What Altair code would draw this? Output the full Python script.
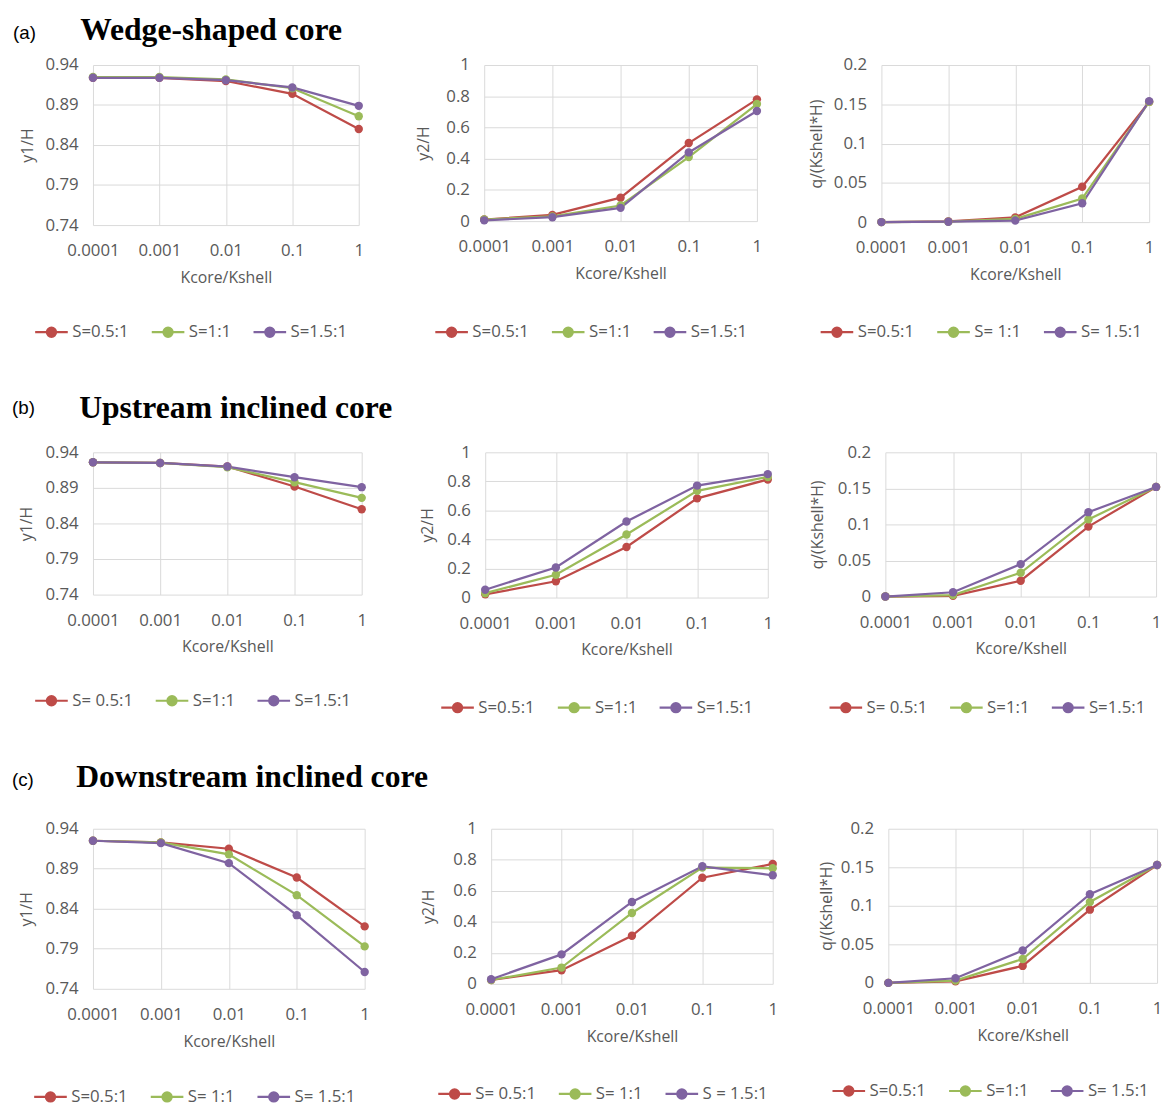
import altair as alt
import pandas as pd

# ---------------- data ----------------
X_LABELS = ["0.0001", "0.001", "0.01", "0.1", "1"]
SERIES_COLORS = ["#BE4B48", "#9BBB59", "#7F63A1"]

Y1_TICKS = [0.74, 0.79, 0.84, 0.89, 0.94]
Y2_TICKS = [0, 0.2, 0.4, 0.6, 0.8, 1]
Q_TICKS = [0, 0.05, 0.1, 0.15, 0.2]

ROW_LETTERS = ["(a)", "(b)", "(c)"]
ROW_TITLES = ["Wedge-shaped core", "Upstream inclined core", "Downstream inclined core"]
Y_TITLES = ["y1/H", "y2/H", "q/(Kshell*H)"]
X_TITLE = "Kcore/Kshell"

# (a) Wedge-shaped core
A_Y1_S05 = [0.924, 0.924, 0.920, 0.904, 0.860]
A_Y1_S10 = [0.925, 0.925, 0.922, 0.911, 0.876]
A_Y1_S15 = [0.924, 0.924, 0.921, 0.912, 0.889]
A_Y2_S05 = [0.010, 0.040, 0.150, 0.500, 0.780]
A_Y2_S10 = [0.010, 0.030, 0.100, 0.410, 0.750]
A_Y2_S15 = [0.005, 0.025, 0.085, 0.440, 0.705]
A_Q_S05 = [0.0, 0.001, 0.006, 0.045, 0.153]
A_Q_S10 = [0.0, 0.0005, 0.004, 0.030, 0.153]
A_Q_S15 = [0.0, 0.0005, 0.002, 0.024, 0.154]
A_LEG_Y1 = ["S=0.5:1", "S=1:1", "S=1.5:1"]
A_LEG_Y2 = ["S=0.5:1", "S=1:1", "S=1.5:1"]
A_LEG_Q = ["S=0.5:1", "S= 1:1", "S= 1.5:1"]

# (b) Upstream inclined core
B_Y1_S05 = [0.926, 0.925, 0.920, 0.892, 0.860]
B_Y1_S10 = [0.926, 0.925, 0.919, 0.898, 0.876]
B_Y1_S15 = [0.926, 0.925, 0.920, 0.905, 0.891]
B_Y2_S05 = [0.022, 0.112, 0.348, 0.683, 0.813]
B_Y2_S10 = [0.030, 0.157, 0.434, 0.735, 0.830]
B_Y2_S15 = [0.054, 0.207, 0.524, 0.771, 0.850]
B_Q_S05 = [0.0, 0.001, 0.022, 0.097, 0.152]
B_Q_S10 = [0.0, 0.002, 0.033, 0.107, 0.152]
B_Q_S15 = [0.0, 0.006, 0.045, 0.117, 0.152]
B_LEG_Y1 = ["S= 0.5:1", "S=1:1", "S=1.5:1"]
B_LEG_Y2 = ["S=0.5:1", "S=1:1", "S=1.5:1"]
B_LEG_Q = ["S= 0.5:1", "S=1:1", "S=1.5:1"]

# (c) Downstream inclined core
C_Y1_S05 = [0.925, 0.923, 0.915, 0.879, 0.818]
C_Y1_S10 = [0.925, 0.923, 0.908, 0.857, 0.793]
C_Y1_S15 = [0.925, 0.922, 0.897, 0.832, 0.761]
C_Y2_S05 = [0.025, 0.088, 0.310, 0.684, 0.773]
C_Y2_S10 = [0.025, 0.105, 0.457, 0.750, 0.745]
C_Y2_S15 = [0.030, 0.190, 0.528, 0.758, 0.700]
C_Q_S05 = [0.0, 0.002, 0.022, 0.095, 0.153]
C_Q_S10 = [0.0, 0.003, 0.031, 0.105, 0.153]
C_Q_S15 = [0.0, 0.006, 0.042, 0.115, 0.153]
C_LEG_Y1 = ["S=0.5:1", "S= 1:1", "S= 1.5:1"]
C_LEG_Y2 = ["S= 0.5:1", "S= 1:1", "S = 1.5:1"]
C_LEG_Q = ["S=0.5:1", "S=1:1", "S= 1.5:1"]

# ---------------- styling ----------------
FONT = "Open Sans"
GREY = "#595959"
LEGEND_SYMBOL = ("M-1,0L1,0M0.28,0A0.28,0.28,0,1,1,-0.28,0"
                 "A0.28,0.28,0,1,1,0.28,0Z")

# per panel: width, height, legendX, legendY, y-title x offset
STYLE = {
    "a1": dict(w=269, h=162, lx=-60, ly=252, tx=-66),
    "a2": dict(w=276, h=158, lx=-51, ly=252, tx=-61),
    "a3": dict(w=271, h=159, lx=-63, ly=252, tx=-66),
    "b1": dict(w=272, h=144, lx=-60, ly=233, tx=-67),
    "b2": dict(w=286, h=147, lx=-46, ly=240, tx=-58),
    "b3": dict(w=274, h=146, lx=-58, ly=240, tx=-69),
    "c1": dict(w=275, h=162, lx=-61, ly=253, tx=-67),
    "c2": dict(w=285, h=157, lx=-55, ly=250, tx=-63),
    "c3": dict(w=272, h=156, lx=-58, ly=247, tx=-63),
}

# per row: spacing col1-col2, spacing col2-col3, title offset, title dx, letter offset
ROW_STYLE = [
    dict(s12=53, s23=47, off=9, dx=61, loff=-29),
    dict(s12=54, s23=37, off=19, dx=61, loff=-26),
    dict(s12=52, s23=41, off=26, dx=58, loff=-29),
]


def panel(series, labels, kind, key):
    st = STYLE[key]
    rows = []
    for lab, vals in zip(labels, series):
        for i, (x, v) in enumerate(zip(X_LABELS, vals)):
            rows.append({"k": x, "v": v, "s": lab, "i": i})
    df = pd.DataFrame(rows)

    if kind == "y1":
        dom, ticks, fmt, yt = [0.74, 0.94], Y1_TICKS, ".2f", Y_TITLES[0]
    elif kind == "y2":
        dom, ticks, fmt, yt = [0, 1], Y2_TICKS, ".1~f", Y_TITLES[1]
    else:
        dom, ticks, fmt, yt = [0, 0.2], Q_TICKS, ".2~f", Y_TITLES[2]

    x_enc = alt.X(
        "k:O", sort=X_LABELS,
        scale=alt.Scale(type="point", padding=0),
        axis=alt.Axis(title=X_TITLE, labelAngle=0, labelPadding=18,
                      titlePadding=11, grid=True),
    )
    y_enc = alt.Y(
        "v:Q",
        scale=alt.Scale(domain=dom, nice=False, zero=False),
        axis=alt.Axis(values=ticks, format=fmt, title=yt, labelPadding=15,
                      titleX=st["tx"], titleY=st["h"] / 2,
                      titleBaseline="middle", grid=True),
    )
    leg = dict(orient="none", legendX=st["lx"], legendY=st["ly"],
               direction="horizontal", columns=3, title=None,
               symbolType=LEGEND_SYMBOL, symbolSize=1089,
               symbolStrokeWidth=2.25, columnPadding=18, labelOffset=3,
               padding=0)
    scale = alt.Scale(domain=labels, range=SERIES_COLORS)
    base = alt.Chart(df).encode(x=x_enc, y=y_enc)
    line = base.mark_line(strokeWidth=2.25).encode(
        stroke=alt.Stroke("s:N", scale=scale, legend=alt.Legend(**leg)),
        order=alt.Order("i:Q"),
    )
    pts = base.mark_point(filled=True, size=72, opacity=1).encode(
        fill=alt.Fill("s:N", scale=scale, legend=alt.Legend(**leg)),
    )
    return alt.layer(line, pts).properties(width=st["w"], height=st["h"])


def indep(c):
    return c.resolve_scale(stroke="independent", fill="independent",
                           x="independent", y="independent").resolve_legend(
        stroke="independent", fill="independent")


def row(idx, p1, p2, p3):
    rs = ROW_STYLE[idx]
    inner = indep(alt.hconcat(p2, p3, spacing=rs["s23"]))
    name = alt.TitleParams(
        text=ROW_TITLES[idx], anchor="start", frame="bounds", dx=rs["dx"],
        offset=rs["off"], font="Liberation Serif", fontSize=32,
        fontWeight="bold", color="black",
    )
    body = indep(alt.hconcat(p1, inner, spacing=rs["s12"])).properties(title=name)
    letter = alt.TitleParams(
        text=ROW_LETTERS[idx], anchor="start", frame="bounds", dx=-7,
        offset=rs["loff"], font="Liberation Sans", fontSize=19,
        fontWeight="normal", color="black",
    )
    return indep(alt.vconcat(body)).properties(title=letter)


row_a = row(0,
            panel([A_Y1_S05, A_Y1_S10, A_Y1_S15], A_LEG_Y1, "y1", "a1"),
            panel([A_Y2_S05, A_Y2_S10, A_Y2_S15], A_LEG_Y2, "y2", "a2"),
            panel([A_Q_S05, A_Q_S10, A_Q_S15], A_LEG_Q, "q", "a3"))
row_b = row(1,
            panel([B_Y1_S05, B_Y1_S10, B_Y1_S15], B_LEG_Y1, "y1", "b1"),
            panel([B_Y2_S05, B_Y2_S10, B_Y2_S15], B_LEG_Y2, "y2", "b2"),
            panel([B_Q_S05, B_Q_S10, B_Q_S15], B_LEG_Q, "q", "b3"))
row_c = row(2,
            panel([C_Y1_S05, C_Y1_S10, C_Y1_S15], C_LEG_Y1, "y1", "c1"),
            panel([C_Y2_S05, C_Y2_S10, C_Y2_S15], C_LEG_Y2, "y2", "c2"),
            panel([C_Q_S05, C_Q_S10, C_Q_S15], C_LEG_Q, "q", "c3"))

lower = indep(alt.vconcat(row_b, row_c, spacing=45))
chart = indep(alt.vconcat(row_a, lower, spacing=51)).properties(
    padding={"left": 4, "top": 0, "right": 0, "bottom": 0}
).configure_axis(
    labelFont=FONT, labelFontSize=17, labelColor=GREY,
    titleFont=FONT, titleFontSize=16, titleFontWeight="normal", titleColor=GREY,
    gridColor="#D9D9D9", gridWidth=1, domain=False, ticks=False, tickSize=0,
).configure_legend(
    labelFont=FONT, labelFontSize=17, labelColor=GREY,
).configure_view(stroke=None).configure_title(color="black")

chart.save("out.html", embed_options={"renderer": "svg", "actions": False})
